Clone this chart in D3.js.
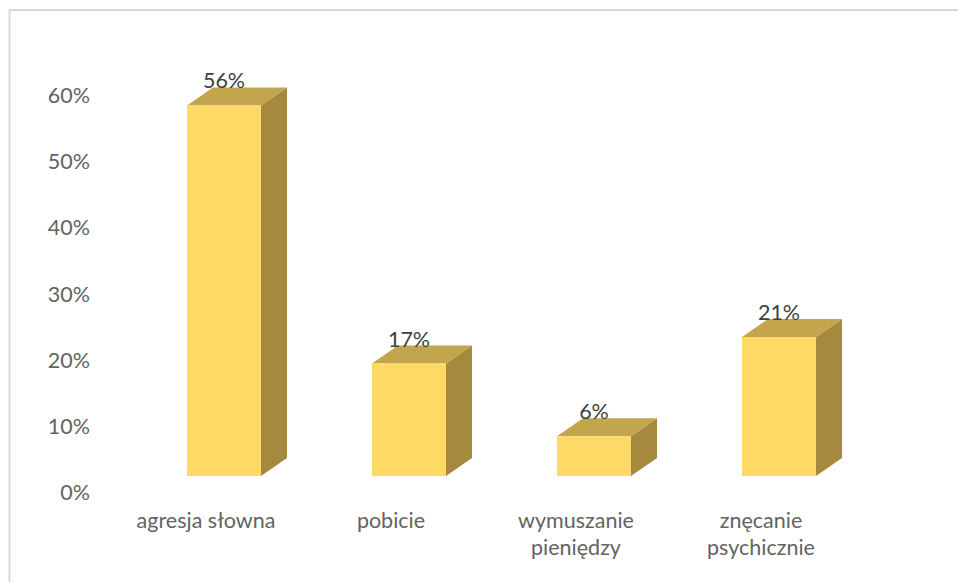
<!DOCTYPE html>
<html><head><meta charset="utf-8">
<script src="https://cdn.jsdelivr.net/npm/d3@7"></script>
<style>body{margin:0;background:#fff}svg{display:block}</style>
</head><body>
<script>
const categories = [["agresja słowna"], ["pobicie"], ["wymuszanie", "pieniędzy"], ["znęcanie", "psychicznie"]];
const values = [0.56, 0.17, 0.06, 0.21];
const valueLabels = ["56%", "17%", "6%", "21%"];
const ticks = [0, 0.1, 0.2, 0.3, 0.4, 0.5, 0.6];

const W = 958, H = 582;
const svg = d3.select("body").append("svg").attr("width", W).attr("height", H);
svg.append("rect").attr("x", 9.5).attr("y", 10).attr("width", 960).attr("height", 600)
  .attr("fill", "#fff").attr("stroke", "#d9d9d9").attr("stroke-width", 2);

const y = d3.scaleLinear().domain([0, 0.6]).range([492.5, 95.5]);
const x = d3.scaleBand().domain(d3.range(values.length)).range([131.5, 871.5]).paddingInner(0.6).paddingOuter(0.3);
const bw = x.bandwidth();
const front = 16.5, dx = 26, dy = -18;
const font = "Lato, 'Open Sans', sans-serif";
const fs = 21.5;

svg.append("g").selectAll("text").data(ticks).join("text")
  .attr("x", 90).attr("y", d => y(d)).attr("dy", "0.35em")
  .attr("text-anchor", "end").attr("font-family", font).attr("font-size", fs)
  .attr("fill", "#636363").text(d => d3.format(".0%")(d));

const g = svg.append("g");
values.forEach((v, i) => {
  const xl = x(i), xr = xl + bw;
  const yt = y(v) - front, yb = y(0) - front;
  g.append("path").attr("d", `M${xr},${yt}L${xr+dx},${yt+dy}L${xr+dx},${yb+dy}L${xr},${yb}Z`).attr("fill", "#A58A3E");
  g.append("path").attr("d", `M${xl},${yt}L${xl+dx},${yt+dy}L${xr+dx},${yt+dy}L${xr},${yt}Z`).attr("fill", "#C3A54E");
  g.append("rect").attr("x", xl).attr("y", yt).attr("width", bw).attr("height", yb - yt).attr("fill", "#FFD966");
  g.append("text").attr("x", xl + bw / 2).attr("y", yt + dy + 1)
    .attr("text-anchor", "middle").attr("font-family", font).attr("font-size", fs)
    .attr("fill", "#404040").text(valueLabels[i]);
  const t = g.append("text").attr("text-anchor", "middle").attr("font-family", font).attr("font-size", fs).attr("fill", "#636363");
  categories[i].forEach((line, k) => {
    t.append("tspan").attr("x", xl + bw / 2 - 18).attr("y", 528 + k * 27).text(line);
  });
});
</script>
</body></html>
